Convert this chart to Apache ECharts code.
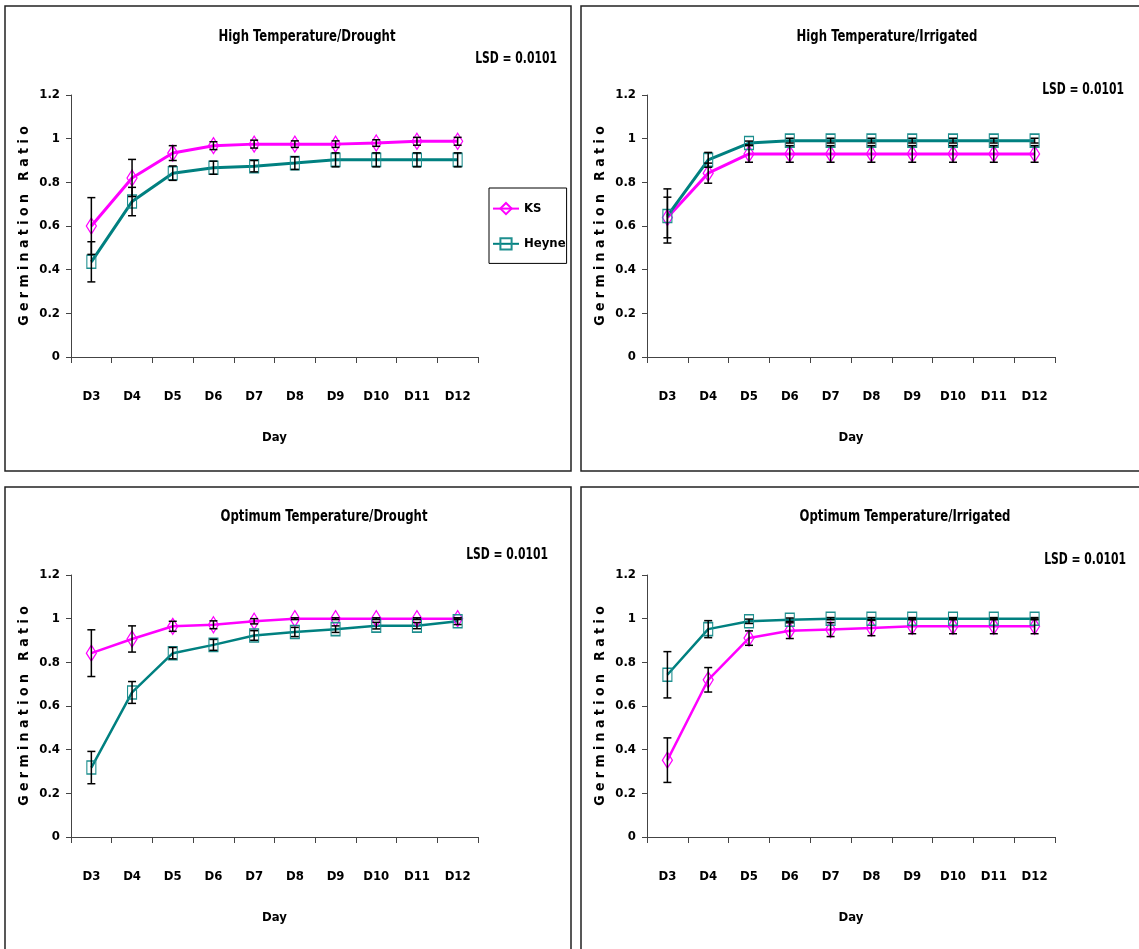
<!DOCTYPE html>
<html>
<head>
<meta charset="utf-8">
<script src="https://cdn.jsdelivr.net/npm/echarts@6/dist/echarts.min.js"></script>
<style>
html,body{margin:0;padding:0;background:#fff;}
#c{width:1139px;height:949px;}
</style>
</head>
<body>
<div id="c"></div>
<script>
// ---- data ----
var days = ['D3','D4','D5','D6','D7','D8','D9','D10','D11','D12'];
var yTicks = [0, 0.2, 0.4, 0.6, 0.8, 1, 1.2];
var seriesNames = ['KS', 'Heyne'];
var panelTitles = ['High Temperature/Drought', 'High Temperature/Irrigated', 'Optimum Temperature/Drought', 'Optimum Temperature/Irrigated'];
var lsdLabel = 'LSD = 0.0101';

// High Temperature / Drought
var htdKS        = [0.600, 0.820, 0.934, 0.968, 0.975, 0.975, 0.975, 0.980, 0.988, 0.988];
var htdKSErr     = [0.130, 0.085, 0.034, 0.018, 0.018, 0.015, 0.015, 0.015, 0.018, 0.018];
var htdHeyne     = [0.436, 0.712, 0.842, 0.867, 0.874, 0.888, 0.903, 0.903, 0.903, 0.903];
var htdHeyneErr  = [0.092, 0.065, 0.033, 0.030, 0.026, 0.029, 0.032, 0.032, 0.032, 0.032];

// High Temperature / Irrigated
var htiKS        = [0.639, 0.842, 0.930, 0.930, 0.930, 0.930, 0.930, 0.930, 0.930, 0.930];
var htiKSErr     = [0.093, 0.046, 0.038, 0.038, 0.038, 0.038, 0.038, 0.038, 0.038, 0.038];
var htiHeyne     = [0.646, 0.903, 0.980, 0.991, 0.991, 0.991, 0.991, 0.991, 0.991, 0.991];
var htiHeyneErr  = [0.124, 0.034, 0.009, 0.011, 0.011, 0.011, 0.011, 0.011, 0.011, 0.011];

// Optimum Temperature / Drought
var otdKS        = [0.842, 0.907, 0.965, 0.972, 0.988, 1.000, 1.000, 1.000, 1.000, 1.000];
var otdKSErr     = [0.107, 0.060, 0.023, 0.018, 0.012, 0.004, 0.004, 0.004, 0.004, 0.004];
var otdHeyne     = [0.318, 0.662, 0.842, 0.880, 0.923, 0.939, 0.952, 0.968, 0.968, 0.988];
var otdHeyneErr  = [0.074, 0.050, 0.026, 0.025, 0.022, 0.021, 0.015, 0.015, 0.014, 0.015];

// Optimum Temperature / Irrigated
var otiKS        = [0.352, 0.720, 0.911, 0.945, 0.950, 0.957, 0.965, 0.965, 0.965, 0.965];
var otiKSErr     = [0.102, 0.056, 0.033, 0.036, 0.032, 0.035, 0.034, 0.034, 0.034, 0.034];
var otiHeyne     = [0.743, 0.952, 0.988, 0.995, 1.000, 1.000, 1.000, 1.000, 1.000, 1.000];
var otiHeyneErr  = [0.106, 0.039, 0.010, 0.008, 0.005, 0.005, 0.005, 0.005, 0.005, 0.005];

// ---- layout / style ----
var FONT = '"Liberation Sans Narrow", "Arial Narrow", "DejaVu Sans Condensed", "Liberation Sans", Arial, sans-serif';
var KS_COLOR = '#ff00ff';
var HEYNE_COLOR = '#008080';

var panels = [
  {ks: htdKS, ksErr: htdKSErr, he: htdHeyne, heErr: htdHeyneErr, grid: {left: 71, top: 95, width: 407, height: 262},
   box: [5, 6, 566, 465], title: [307, 37], lsd: [557, 59], lw: 3},
  {ks: htiKS, ksErr: htiKSErr, he: htiHeyne, heErr: htiHeyneErr, grid: {left: 647, top: 95, width: 408, height: 262},
   box: [581, 6, 570, 465], title: [887, 37], lsd: [1124, 90], lw: 3},
  {ks: otdKS, ksErr: otdKSErr, he: otdHeyne, heErr: otdHeyneErr, grid: {left: 71, top: 575, width: 407, height: 262},
   box: [5, 487, 566, 470], title: [324, 517], lsd: [548, 555], lw: 2.5},
  {ks: otiKS, ksErr: otiKSErr, he: otiHeyne, heErr: otiHeyneErr, grid: {left: 647, top: 575, width: 408, height: 262},
   box: [581, 487, 570, 470], title: [905, 517], lsd: [1126, 560], lw: 2.5}
];

var grids = [], xAxes = [], yAxes = [], series = [], graphics = [];

function errRender(params, api) {
  var x = api.value(0), v = api.value(1), e = api.value(2);
  var top = api.coord([x, v + e]);
  var bot = api.coord([x, v - e]);
  var hw = 4;
  var st = {stroke: '#000', lineWidth: 1.5};
  return {
    type: 'group',
    children: [
      {type: 'line', shape: {x1: top[0], y1: top[1], x2: bot[0], y2: bot[1]}, style: st},
      {type: 'line', shape: {x1: top[0] - hw, y1: top[1], x2: top[0] + hw, y2: top[1]}, style: st},
      {type: 'line', shape: {x1: bot[0] - hw, y1: bot[1], x2: bot[0] + hw, y2: bot[1]}, style: st}
    ]
  };
}

panels.forEach(function (p, i) {
  grids.push(p.grid);
  xAxes.push({
    type: 'category', gridIndex: i, data: days,
    name: 'Day', nameLocation: 'middle', nameGap: 74,
    nameTextStyle: {fontFamily: FONT, fontWeight: 'bold', fontSize: 13, color: '#000'},
    axisLine: {lineStyle: {color: '#444', width: 1}},
    axisTick: {show: true, length: 6, inside: false, lineStyle: {color: '#444'}},
    axisLabel: {fontFamily: FONT, fontWeight: 'bold', fontSize: 13, color: '#000', margin: 33},
    splitLine: {show: false}
  });
  yAxes.push({
    type: 'value', gridIndex: i, min: 0, max: 1.2, interval: 0.2,
    name: 'G e r m i n a t i o n   R a t i o', nameLocation: 'middle', nameGap: 40, nameRotate: 90,
    nameTextStyle: {fontFamily: FONT, fontWeight: 'bold', fontSize: 14, color: '#000'},
    axisLine: {show: true, lineStyle: {color: '#444', width: 1}},
    axisTick: {show: true, length: 5, inside: false, lineStyle: {color: '#444'}},
    axisLabel: {fontFamily: FONT, fontWeight: 'bold', fontSize: 13, color: '#000', margin: 11,
      formatter: function (v) { var k = yTicks.indexOf(Math.round(v * 10) / 10); return k >= 0 ? String(yTicks[k]) : ''; }},
    splitLine: {show: false}
  });
  series.push({
    name: seriesNames[0], type: 'line', xAxisIndex: i, yAxisIndex: i, data: p.ks,
    symbol: 'diamond', symbolSize: [10, 16],
    lineStyle: {color: KS_COLOR, width: p.lw},
    itemStyle: {color: 'rgba(255,255,255,0)', borderColor: KS_COLOR, borderWidth: 1.3},
    emphasis: {disabled: true}, z: 3
  });
  series.push({
    name: seriesNames[1], type: 'line', xAxisIndex: i, yAxisIndex: i, data: p.he,
    symbol: 'rect', symbolSize: [9, 13],
    lineStyle: {color: HEYNE_COLOR, width: p.lw},
    itemStyle: {color: 'rgba(255,255,255,0)', borderColor: '#1f8f8f', borderWidth: 1.3},
    emphasis: {disabled: true}, z: 3
  });
  series.push({
    name: 'errKS' + i, type: 'custom', xAxisIndex: i, yAxisIndex: i,
    data: p.ks.map(function (v, k) { return [k, v, p.ksErr[k]]; }),
    renderItem: errRender, z: 5, silent: true
  });
  series.push({
    name: 'errHe' + i, type: 'custom', xAxisIndex: i, yAxisIndex: i,
    data: p.he.map(function (v, k) { return [k, v, p.heErr[k]]; }),
    renderItem: errRender, z: 5, silent: true
  });
  graphics.push({
    type: 'rect', shape: {x: p.box[0], y: p.box[1], width: p.box[2], height: p.box[3]},
    style: {fill: 'none', stroke: '#222', lineWidth: 1.5}, silent: true
  });
  graphics.push({
    type: 'text', x: p.title[0], y: p.title[1], scaleY: 1.2,
    style: {text: panelTitles[i], fontFamily: FONT, fontWeight: 'bold', fontSize: 13, fill: '#000', align: 'center', verticalAlign: 'middle'}
  });
  graphics.push({
    type: 'text', x: p.lsd[0], y: p.lsd[1], scaleY: 1.25,
    style: {text: lsdLabel, fontFamily: FONT, fontWeight: 'bold', fontSize: 12, fill: '#000', align: 'right', verticalAlign: 'middle'}
  });
});

var chart = echarts.init(document.getElementById('c'), null, {renderer: 'canvas'});
chart.setOption({
  backgroundColor: '#fff',
  animation: false,
  grid: grids,
  xAxis: xAxes,
  yAxis: yAxes,
  legend: {
    data: seriesNames, orient: 'vertical', left: 489, top: 188,
    itemWidth: 26, itemHeight: 14, itemGap: 22,
    borderColor: '#000', borderWidth: 1, borderRadius: 0,
    padding: [14, 1, 13, 3],
    textStyle: {fontFamily: FONT, fontWeight: 'bold', fontSize: 13, color: '#000'},
    selectedMode: false
  },
  series: series,
  graphic: graphics
});
</script>
</body>
</html>
